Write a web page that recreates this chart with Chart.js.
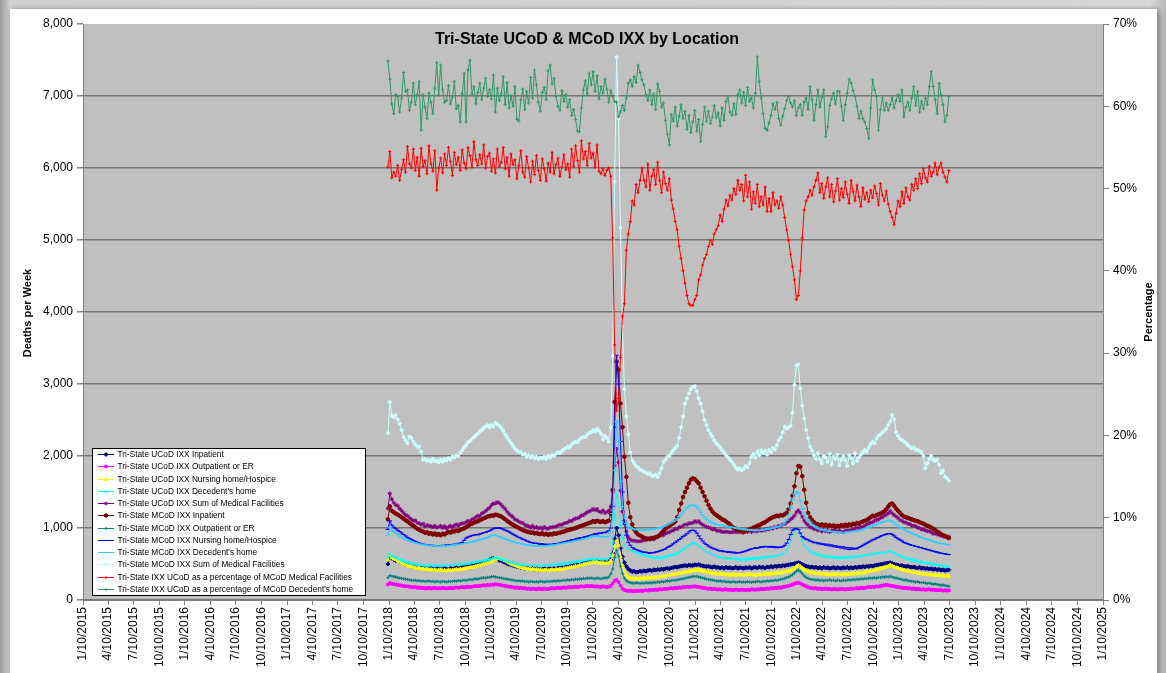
<!DOCTYPE html>
<html>
<head>
<meta charset="utf-8">
<script src="https://cdn.jsdelivr.net/npm/chart.js@4.4.1/dist/chart.umd.min.js"></script>
<style>
  html, body { margin: 0; padding: 0; }
  body { width: 1166px; height: 673px; overflow: hidden; position: relative;
         background: linear-gradient(to right, #9a9a9a 0px, #d0d0d0 10px, #d8d8d8 1150px, #b8b8b8 1166px); }
  .panel { position: absolute; left: 10px; top: 9px; width: 1147px; height: 690px; background: #fff;
           box-shadow: 2px 1px 6px rgba(0,0,0,0.45); }
  #chart { position: absolute; left: 0; top: 0; }
</style>
</head>
<body>
<div class="panel"></div>
<canvas id="chart" width="1166" height="673"></canvas>
<script>
// weekly series, first week ending 1/6/2018
const firstWeek = '1/6/2018';

const xTickLabels = [
  '1/10/2015','4/10/2015','7/10/2015','10/10/2015',
  '1/10/2016','4/10/2016','7/10/2016','10/10/2016',
  '1/10/2017','4/10/2017','7/10/2017','10/10/2017',
  '1/10/2018','4/10/2018','7/10/2018','10/10/2018',
  '1/10/2019','4/10/2019','7/10/2019','10/10/2019',
  '1/10/2020','4/10/2020','7/10/2020','10/10/2020',
  '1/10/2021','4/10/2021','7/10/2021','10/10/2021',
  '1/10/2022','4/10/2022','7/10/2022','10/10/2022',
  '1/10/2023','4/10/2023','7/10/2023','10/10/2023',
  '1/10/2024','4/10/2024','7/10/2024','10/10/2024',
  '1/10/2025'
];

// Tri-State UCoD IXX Inpatient
const ucodInpatient = [
  500,600,580,560,545,555,530,520,510,490,500,480,470,
  460,470,455,445,450,440,455,430,445,440,425,440,435,
  430,445,420,440,430,425,445,430,440,450,435,445,455,
  450,460,470,455,480,475,490,500,495,515,510,530,540,
  560,575,580,565,570,550,545,530,520,505,495,490,480,
  470,465,460,450,455,440,445,435,430,440,425,435,420,
  430,425,440,420,430,435,425,440,430,445,440,450,445,
  460,455,470,465,480,475,490,485,500,505,510,520,530,
  535,550,540,545,530,525,535,520,530,540,560,650,850,
  1000,900,720,600,520,470,430,410,395,400,385,390,400,
  395,405,400,410,415,405,420,415,425,420,430,425,435,
  440,435,445,450,460,455,465,470,475,480,475,485,480,
  480,490,485,495,480,475,470,465,470,460,455,465,450,
  455,445,450,440,455,445,450,440,445,455,440,450,445,
  440,450,445,455,440,450,455,445,460,450,455,445,460,
  455,465,460,470,465,475,470,480,475,485,490,495,500,
  505,515,520,510,495,480,470,465,455,460,450,455,445,
  450,440,455,445,450,440,445,455,440,450,445,440,450,
  445,455,440,450,445,455,450,460,455,465,460,470,465,
  475,470,480,485,490,495,500,505,510,515,520,510,500,490,
  485,475,480,470,465,470,460,455,460,450,445,455,440,
  445,435,440,430,435,425,430,420,425,415,420,410,415,420
];

// Tri-State UCoD IXX Outpatient or ER
const ucodOutpatient = [
  215,235,225,220,215,210,205,200,195,190,190,185,180,
  175,180,170,175,165,170,160,165,170,160,165,170,160,
  165,160,170,165,160,165,170,165,170,175,170,175,180,
  175,180,185,180,185,190,195,190,195,200,205,200,210,
  205,215,210,220,215,210,205,200,195,190,185,180,175,
  170,175,165,170,160,165,155,160,150,160,155,150,160,
  155,150,160,155,150,160,165,160,165,170,165,170,175,
  170,175,180,175,180,185,180,185,190,185,190,195,190,
  195,190,185,190,185,180,190,185,180,185,195,230,265,
  280,250,200,160,140,130,125,130,125,120,130,125,130,
  125,130,135,130,140,135,140,145,140,150,145,150,155,
  155,160,165,160,170,165,175,170,180,175,185,180,185,
  185,190,185,180,175,170,165,160,155,160,150,155,150,
  145,150,140,145,150,140,145,135,140,145,140,135,145,
  140,135,145,140,150,145,140,150,145,155,150,155,160,
  155,165,160,170,165,175,170,180,185,190,195,205,215,
  225,235,240,230,215,200,190,180,170,165,160,165,155,
  160,150,155,160,150,155,145,150,155,145,150,155,150,
  145,155,150,160,155,160,165,160,170,165,170,175,180,
  175,185,180,190,185,195,200,205,210,205,200,195,190,185,
  180,175,170,165,170,160,165,155,160,150,155,150,145,
  150,140,145,150,140,145,135,140,135,140,130,135,130,135
];

// Tri-State UCoD IXX Nursing home/Hospice
const ucodNursing = [
  560,620,590,570,560,545,530,515,500,490,480,470,465,
  455,450,440,445,430,435,425,430,420,425,415,420,410,
  415,420,410,415,405,420,410,415,420,425,420,430,425,
  435,440,445,450,455,460,470,475,480,490,500,505,515,
  520,535,550,560,575,585,570,560,545,530,515,500,490,
  480,470,460,450,445,440,435,430,425,430,420,425,415,
  420,410,415,420,410,415,420,415,425,420,430,425,435,
  440,445,450,455,460,470,465,480,485,490,500,505,510,
  515,525,520,530,515,510,520,505,510,515,540,620,750,
  820,760,600,470,400,350,320,305,300,295,300,290,295,
  300,305,295,310,305,315,310,320,315,325,330,325,335,
  340,345,350,355,360,365,370,375,380,385,390,395,400,
  405,415,410,420,410,400,395,390,385,380,375,370,365,
  360,365,355,360,350,355,345,350,355,345,350,355,350,
  345,355,350,360,350,355,345,355,360,350,355,360,365,
  360,370,365,375,370,380,375,385,390,395,400,410,420,
  440,470,485,470,445,420,405,395,385,380,375,370,365,
  370,360,365,355,360,350,360,355,365,350,360,355,350,
  360,355,365,360,370,365,375,370,380,375,385,390,395,
  400,405,410,420,425,435,440,450,460,470,485,475,460,450,
  445,430,420,415,405,400,395,390,380,385,375,370,365,
  360,365,355,350,355,345,350,340,345,335,340,330,335,330
];

// Tri-State UCoD IXX Decedent's home
const ucodHome = [
  590,640,610,600,585,575,560,550,540,530,525,515,505,
  500,495,490,485,480,490,475,480,470,485,475,470,480,
  475,470,480,485,475,480,490,485,495,490,500,495,505,
  500,510,505,515,520,515,525,530,535,540,545,550,560,
  565,575,585,590,580,575,570,560,550,540,530,520,515,
  505,500,495,490,485,490,480,485,475,480,470,480,475,
  470,480,475,485,480,490,485,495,490,500,495,505,510,
  505,515,520,515,525,530,535,540,545,550,555,560,565,
  565,570,560,575,565,560,570,565,560,575,620,800,1150,
  1480,1350,1050,850,760,720,700,690,680,670,660,650,640,
  635,625,615,610,600,595,590,585,590,580,585,590,600,
  605,615,620,630,640,650,660,680,700,720,740,760,780,
  790,785,770,750,730,710,690,670,655,645,630,620,610,
  600,595,590,580,585,575,580,570,575,565,570,560,565,
  570,560,565,575,570,580,575,585,580,590,585,595,600,
  595,605,600,610,620,615,630,640,660,690,740,820,900,
  960,990,975,900,820,760,720,700,680,660,650,640,630,
  620,615,605,610,600,595,600,590,595,585,590,580,590,
  585,595,590,600,595,605,600,610,605,615,620,625,630,
  635,640,645,650,655,650,660,655,665,670,675,665,650,640,
  625,615,600,590,580,575,565,560,550,545,535,530,520,
  525,515,510,505,500,495,490,485,480,478,472,468,462,460
];

// Tri-State UCoD IXX Sum of Medical Facilities
const ucodSumMedical = [
  1270,1480,1400,1350,1320,1310,1270,1240,1210,1180,1170,1140,1120,
  1100,1105,1070,1065,1045,1060,1020,1040,1030,1025,1010,1030,1005,
  1015,1030,1000,1025,995,1015,1030,1010,1035,1050,1030,1055,1065,
  1065,1080,1100,1090,1120,1130,1150,1170,1165,1200,1215,1235,1260,
  1280,1320,1340,1340,1360,1345,1320,1290,1265,1225,1195,1170,1150,
  1120,1110,1090,1075,1070,1045,1035,1025,1005,1030,1000,1015,995,
  1005,985,1015,995,990,1010,1010,1015,1020,1035,1045,1045,1060,
  1070,1075,1100,1095,1120,1130,1135,1150,1175,1180,1200,1220,1230,
  1245,1265,1245,1265,1230,1215,1245,1210,1220,1240,1295,1500,1865,
  2100,1910,1520,1230,1060,950,875,840,825,825,815,815,815,
  820,840,830,850,860,855,870,870,885,890,905,900,925,
  935,940,960,965,990,985,1010,1015,1030,1050,1045,1065,1065,
  1070,1095,1080,1095,1065,1045,1030,1015,1010,1000,980,990,965,
  960,960,945,945,950,945,940,940,945,945,940,955,940,
  935,950,945,970,945,960,955,955,980,960,970,970,985,
  980,1000,990,1015,1005,1030,1025,1050,1055,1075,1095,1120,1140,
  1170,1220,1245,1210,1155,1100,1065,1040,1010,1005,985,990,965,
  980,950,975,955,960,945,960,965,960,950,965,945,945,
  965,965,965,970,985,985,1000,1000,1015,1015,1030,1050,1060,
  1075,1080,1100,1110,1120,1140,1150,1170,1185,1205,1235,1205,1180,1160,
  1140,1110,1100,1080,1075,1060,1055,1035,1030,1025,1005,1000,980,
  980,965,955,955,940,920,925,910,905,890,890,875,880,880
];

// Tri-State MCoD IXX Inpatient
const mcodInpatient = [
  1120,1300,1240,1220,1200,1185,1170,1150,1130,1110,1090,1070,1050,
  1030,1010,990,975,960,950,935,940,920,930,910,925,905,
  915,900,920,910,930,945,935,955,950,965,960,975,985,
  995,1010,1030,1050,1060,1075,1085,1095,1110,1120,1135,1145,1160,
  1165,1175,1170,1185,1180,1170,1160,1140,1120,1100,1080,1060,1045,
  1030,1015,1000,985,970,960,950,945,935,940,925,930,920,
  915,925,910,920,905,915,910,925,920,930,935,945,950,
  960,970,975,985,990,1000,1010,1020,1030,1040,1050,1060,1070,
  1080,1095,1085,1100,1090,1085,1095,1080,1090,1100,1200,1530,2750,
  3310,3200,2730,2400,1990,1710,1350,1150,1050,980,940,910,895,
  880,865,855,850,845,860,850,870,880,900,930,960,990,
  1010,1030,1050,1065,1090,1150,1250,1340,1430,1500,1560,1620,1670,
  1690,1680,1650,1620,1560,1500,1440,1380,1320,1270,1230,1200,1180,
  1160,1140,1120,1110,1090,1070,1050,1020,1000,990,975,960,955,
  950,960,970,985,990,1005,1015,1030,1040,1055,1070,1080,1100,
  1120,1135,1150,1160,1170,1165,1180,1175,1190,1210,1260,1340,1450,
  1580,1760,1860,1850,1720,1530,1350,1210,1150,1110,1080,1060,1050,
  1040,1050,1030,1045,1020,1040,1025,1035,1015,1030,1020,1040,1025,
  1045,1030,1050,1040,1060,1050,1070,1060,1080,1090,1100,1110,1130,
  1150,1170,1160,1180,1190,1200,1215,1230,1260,1300,1330,1340,1310,1270,
  1240,1210,1180,1160,1150,1140,1130,1120,1110,1100,1095,1080,1070,
  1060,1045,1030,1020,1005,990,970,950,935,915,900,890,875,860
];

// Tri-State MCoD IXX Outpatient or ER
const mcodOutpatient = [
  310,340,330,325,320,310,305,300,295,290,285,280,275,
  270,275,265,270,260,265,255,260,265,255,260,250,260,
  255,250,260,255,250,260,255,260,265,260,270,265,270,
  275,270,280,285,280,290,295,290,300,305,310,305,315,
  315,320,325,320,315,310,305,300,295,290,285,280,275,
  270,265,270,260,265,255,260,250,260,255,250,255,250,
  260,255,250,255,260,255,260,265,260,270,265,270,275,
  270,280,275,285,280,290,285,295,290,300,295,305,300,
  305,300,295,305,300,295,300,310,305,320,360,430,590,
  690,610,470,370,300,265,250,240,235,230,240,235,230,
  235,230,240,235,240,235,245,240,250,245,255,250,260,
  265,260,270,275,270,280,285,290,295,300,310,315,320,
  330,325,330,320,315,305,300,290,285,280,275,270,265,
  260,265,255,260,250,255,245,250,255,245,250,255,245,
  250,245,255,250,245,255,250,260,255,250,260,255,265,
  260,270,265,275,270,280,285,290,300,310,320,335,350,
  375,400,415,395,365,335,315,300,290,285,280,275,280,
  270,275,265,275,270,280,270,275,265,275,270,265,275,
  270,275,280,275,285,280,290,285,295,290,300,295,305,
  300,305,310,305,315,310,320,315,325,320,330,320,310,305,
  300,290,285,275,280,270,265,260,255,250,255,245,240,
  245,235,230,235,225,220,225,215,210,205,210,200,195,190
];

// Tri-State MCoD IXX Nursing home/Hospice
const mcodNursing = [
  980,1100,1040,1010,990,970,950,930,910,890,870,855,840,
  825,815,800,790,785,775,770,760,765,755,760,750,755,
  745,750,760,755,765,760,770,765,775,770,780,790,800,
  830,860,875,885,895,900,910,905,915,925,935,940,950,
  960,975,990,1000,995,1005,990,985,970,960,945,930,915,
  900,885,870,860,845,835,820,810,800,795,785,790,780,
  775,780,770,775,765,775,770,780,775,785,790,800,805,
  810,820,825,835,840,845,855,860,865,870,880,885,890,
  900,910,920,915,930,925,940,935,945,960,1000,1300,2400,
  3400,3000,2200,1500,1100,900,800,760,730,710,700,690,680,
  670,660,665,655,650,660,655,665,670,680,690,700,710,
  730,745,760,780,800,820,840,860,880,900,920,945,965,
  970,960,930,890,850,820,790,770,750,735,720,710,700,
  690,680,685,670,675,660,670,655,665,650,660,655,665,
  670,680,690,700,710,715,725,720,730,740,735,745,740,
  735,745,730,740,725,735,730,740,760,790,840,910,970,
  985,995,980,930,880,860,845,835,820,810,795,800,780,
  790,770,780,760,775,750,765,740,755,730,745,720,740,
  710,730,700,725,705,720,710,730,745,760,775,790,805,
  820,835,845,860,870,885,895,905,915,920,925,910,890,870,
  850,835,820,800,790,780,770,760,755,745,740,730,725,
  715,710,700,695,685,680,670,665,655,650,645,640,635,630
];

// Tri-State MCoD IXX Decedent's home
const mcodHome = [
  900,1010,970,950,930,910,890,870,860,845,835,820,810,
  800,795,785,780,770,775,760,765,755,760,750,755,745,
  750,740,755,745,750,760,755,765,760,770,775,770,780,
  785,790,795,800,805,815,820,830,835,845,850,860,870,
  880,895,905,900,890,880,870,860,850,840,830,820,810,
  800,795,785,780,775,770,760,765,755,760,750,755,745,
  750,745,755,750,760,755,765,760,770,775,780,785,790,
  795,800,805,810,815,820,830,835,840,850,855,860,870,
  880,890,885,895,880,875,885,880,875,890,950,1200,1800,
  2480,2200,1650,1300,1150,1060,1020,1000,990,985,975,980,970,
  975,965,980,970,985,975,990,985,1000,995,1010,1020,1030,
  1045,1060,1075,1090,1110,1130,1160,1190,1220,1250,1280,1300,1315,
  1320,1310,1290,1260,1220,1180,1150,1120,1100,1085,1070,1060,1050,
  1045,1035,1040,1025,1030,1015,1020,1005,1010,995,1000,985,990,
  975,985,970,980,965,975,960,970,965,975,970,980,990,
  985,1000,995,1010,1020,1015,1030,1045,1070,1110,1180,1280,1400,
  1470,1505,1480,1380,1270,1200,1150,1110,1080,1050,1030,1010,995,
  985,970,980,960,965,950,955,945,950,935,945,930,940,
  935,945,940,955,950,960,955,970,965,980,990,1000,1010,
  1020,1030,1040,1050,1060,1070,1080,1090,1100,1110,1105,1090,1070,1050,
  1030,1010,995,980,965,950,940,930,915,905,895,880,870,
  860,850,845,835,825,815,810,800,790,785,780,775,770,765
];

// Tri-State MCoD IXX Sum of Medical Facilities
const mcodSumMedical = [
  2320,2750,2560,2540,2570,2510,2450,2360,2260,2220,2180,2270,2250,
  2200,2160,2130,2130,2060,1950,1960,1930,1950,1920,1960,1930,1940,
  1910,1950,1920,1960,1940,1970,1950,1990,1980,2010,2000,2050,2080,
  2120,2150,2190,2210,2240,2260,2290,2310,2340,2360,2390,2410,2430,
  2400,2430,2410,2460,2440,2420,2390,2350,2300,2260,2220,2180,2140,
  2100,2080,2060,2050,2020,2030,1990,2010,1980,2000,1970,1990,1960,
  1980,1970,1990,1960,2000,1980,2010,2000,2030,2050,2040,2070,2090,
  2110,2130,2120,2160,2180,2200,2190,2230,2250,2270,2260,2300,2320,
  2330,2360,2340,2380,2350,2310,2230,2280,2250,2200,2400,3390,5810,
  7540,6690,5170,3800,2930,2550,2300,2050,1940,1900,1860,1840,1810,
  1800,1780,1770,1750,1760,1730,1720,1740,1710,1760,1830,1920,1950,
  1990,2000,2040,2080,2110,2140,2250,2400,2550,2730,2800,2870,2930,
  2960,2970,2900,2800,2730,2620,2500,2430,2360,2310,2270,2220,2180,
  2150,2120,2080,2050,2010,1980,1950,1920,1880,1840,1810,1830,1800,
  1820,1860,1840,1900,1990,2030,1980,2060,2010,2080,2040,2070,2020,
  2083,2050,2110,2090,2150,2222,2260,2330,2407,2380,2400,2420,2600,
  2990,3260,3270,2940,2700,2520,2360,2250,2130,2080,2010,1960,2040,
  1950,1900,2000,1980,1920,2030,1880,1990,1960,2020,1870,1950,2000,
  1940,1860,2010,1970,1900,2040,1930,1980,2020,2050,2083,2060,2120,
  2170,2200,2180,2240,2280,2300,2330,2350,2380,2430,2480,2570,2510,2330,
  2280,2240,2222,2200,2180,2150,2130,2106,2120,2090,2083,2070,2050,
  2000,1830,1900,1960,2000,1950,1930,1950,1880,1760,1800,1713,1690,1657
];

// Tri-State IXX UCoD as a percentage of MCoD Medical Facilities (%)
const pctMedical = [
  52.6,54.5,51.3,52.0,51.5,52.8,51.0,52.3,53.5,52.0,55.1,53.0,52.5,
  54.8,52.2,53.8,51.5,54.9,52.7,53.4,51.8,55.2,53.0,52.1,54.6,49.8,
  52.5,53.7,51.9,54.2,52.8,55.0,53.3,51.6,54.4,52.9,53.8,52.2,54.7,
  53.1,52.4,55.0,54.0,52.6,55.7,53.5,52.8,54.1,53.0,55.3,52.5,53.9,
  54.3,52.1,53.6,51.9,54.8,52.7,53.2,55.0,52.4,53.8,51.5,54.2,52.9,
  53.5,51.2,52.8,54.6,52.0,51.4,53.9,52.5,50.8,53.3,51.7,54.0,52.2,
  51.0,53.6,52.4,50.9,53.1,52.0,54.4,51.8,52.9,53.7,51.5,52.6,54.1,
  52.3,53.0,51.4,54.8,52.7,55.2,53.4,52.0,55.8,53.6,54.5,52.8,55.5,
  53.7,54.3,52.6,55.3,52.1,51.8,52.4,51.6,52.2,52.5,51.5,44.0,31.0,
  23.0,24.5,29.5,34.5,36.0,42.5,44.5,46.0,48.5,48.0,50.5,49.5,51.0,
  52.5,51.0,50.2,53.0,49.8,51.5,52.3,50.5,53.2,51.0,49.5,52.0,50.6,
  49.8,51.2,48.6,47.5,46.0,45.0,43.0,41.5,40.0,38.5,37.0,36.0,35.8,
  35.8,36.5,37.0,38.9,39.5,40.7,41.5,42.0,43.0,43.7,43.2,44.5,45.0,
  45.5,46.8,46.0,47.5,48.6,47.9,49.2,48.6,50.0,49.3,51.0,49.8,50.5,
  48.5,51.6,49.0,50.8,47.5,49.6,48.2,50.5,47.8,49.0,48.0,50.2,47.2,
  48.8,47.2,49.5,48.0,48.5,47.6,49.0,48.0,46.5,45.0,43.7,42.0,40.5,
  38.9,36.5,37.0,40.0,44.0,47.4,48.5,49.0,49.8,49.2,50.2,51.0,51.9,
  49.5,50.6,48.8,50.2,51.3,49.0,50.5,48.4,49.7,51.2,48.6,50.0,48.9,
  50.8,49.3,48.2,51.0,49.6,48.5,50.4,49.0,47.8,50.1,48.7,49.5,48.4,
  49.8,48.9,50.3,49.4,48.0,50.6,49.2,48.5,49.7,48.1,47.2,46.5,45.6,47.0,
  48.5,47.8,49.6,48.2,50.1,49.0,48.6,50.5,49.8,51.2,50.0,51.8,50.6,
  52.4,51.3,50.8,52.7,51.5,52.0,53.1,51.7,52.6,53.1,52.0,51.4,50.8,52.2
];

// Tri-State IXX UCoD as a percentage of MCoD Decedent's home (%)
const pctHome = [
  65.5,63.3,60.3,59.1,61.4,61.2,59.3,61.0,64.1,61.8,62.0,59.5,60.5,
  62.8,60.2,61.4,63.0,57.1,61.4,59.9,58.5,61.6,60.5,59.1,62.2,65.3,
  61.4,65.0,62.0,60.5,60.7,62.5,60.3,61.1,63.0,59.7,60.1,58.1,61.5,
  64.0,58.1,64.4,65.6,61.4,62.4,60.3,61.7,62.8,60.8,62.2,63.4,61.2,
  62.0,60.9,63.8,59.3,62.2,60.7,61.5,63.6,60.2,62.9,59.8,61.3,60.0,
  62.4,58.4,58.2,60.8,62.1,59.6,61.8,60.4,63.5,61.0,64.4,62.6,60.5,
  59.4,61.7,62.3,60.8,64.3,65.0,62.7,63.4,61.2,60.0,59.5,61.9,60.6,
  61.4,59.9,60.8,58.9,59.6,58.4,57.0,56.9,59.8,62.0,63.1,61.5,64.0,
  62.6,64.2,61.8,63.7,60.9,62.4,61.6,63.3,62.1,60.5,61.9,61.2,60.6,
  60.5,58.7,59.3,60.1,59.5,61.0,62.8,63.2,62.4,63.6,62.9,65.0,64.1,
  63.2,62.6,61.4,60.7,62.0,60.2,61.5,59.6,62.7,61.8,59.9,60.4,58.3,
  56.6,55.3,59.0,58.2,59.9,57.6,58.8,60.2,58.5,59.4,57.2,58.9,56.8,
  58.1,59.5,57.0,58.4,55.7,57.8,59.9,58.2,59.4,57.9,58.7,60.1,58.6,
  59.2,57.6,59.8,58.3,60.6,61.1,59.3,58.9,60.3,59.0,61.4,62.0,60.4,
  61.7,60.1,62.3,60.6,61.0,59.8,61.6,66.0,63.0,61.0,59.1,57.3,57.1,
  58.0,58.9,60.3,59.6,60.5,58.5,57.7,58.8,59.7,60.7,61.2,60.4,59.9,
  60.7,58.9,59.8,60.2,58.9,60.5,61.0,59.6,62.4,60.8,58.3,60.2,62.0,
  59.9,61.1,62.0,56.3,57.5,60.1,60.9,61.6,60.3,61.8,61.8,60.0,58.3,
  60.2,61.6,63.3,62.8,61.9,61.2,60.0,58.5,59.4,58.5,58.1,57.3,56.1,
  59.8,63.2,62.0,61.2,57.1,59.6,61.0,59.5,60.4,59.5,60.2,61.0,59.8,60.7,
  61.4,60.6,62.0,58.7,59.9,60.5,59.5,61.0,62.4,60.1,61.8,59.3,60.6,
  59.7,61.0,60.2,62.4,64.2,62.4,60.8,59.1,62.8,61.4,60.2,58.1,58.9,61.2
];

function dayNum(str) {
  const [m, d, y] = str.split('/').map(Number);
  return Date.UTC(y, m - 1, d) / 86400000;
}
const firstDay = dayNum(firstWeek);
const toPoints = arr => arr.map((v, i) => ({ x: firstDay + 7 * i, y: v }));

const seriesDefs = [
  { label: 'Tri-State UCoD IXX Inpatient', data: ucodInpatient, color: '#000080', style: 'rectRot', r: 2 },
  { label: 'Tri-State UCoD IXX Outpatient or ER', data: ucodOutpatient, color: '#FF00FF', style: 'rect', r: 1.8 },
  { label: 'Tri-State UCoD IXX Nursing home/Hospice', data: ucodNursing, color: '#FFFF00', style: 'triangle', r: 2 },
  { label: "Tri-State UCoD IXX Decedent's home", data: ucodHome, color: '#00FFFF', style: 'crossRot', r: 1.8 },
  { label: 'Tri-State UCoD IXX Sum of Medical Facilities', data: ucodSumMedical, color: '#800080', style: 'star', r: 2 },
  { label: 'Tri-State MCoD IXX Inpatient', data: mcodInpatient, color: '#800000', style: 'circle', r: 1.8 },
  { label: 'Tri-State MCoD IXX Outpatient or ER', data: mcodOutpatient, color: '#008080', style: 'cross', r: 1.6 },
  { label: 'Tri-State MCoD IXX Nursing home/Hospice', data: mcodNursing, color: '#0000FF', style: 'line', r: 2.2 },
  { label: "Tri-State MCoD IXX Decedent's home", data: mcodHome, color: '#33CCFF', style: 'line', r: 2.5 },
  { label: 'Tri-State MCoD IXX Sum of Medical Facilities', data: mcodSumMedical, color: '#CCFFFF', style: 'circle', r: 1.5 },
  { label: 'Tri-State IXX UCoD as a percentage of MCoD Medical Facilities', data: pctMedical, color: '#FF0000', style: 'cross', r: 1.6, axis: 'y2' },
  { label: "Tri-State IXX UCoD as a percentage of MCoD Decedent's home", data: pctHome, color: '#339966', style: 'cross', r: 1.6, axis: 'y2' }
];

const FONT = '"Liberation Sans", Arial, sans-serif';

const plotBackground = {
  id: 'plotBackground',
  beforeDraw(chart) {
    const { ctx, chartArea: a } = chart;
    ctx.save();
    ctx.fillStyle = '#C0C0C0';
    ctx.fillRect(a.left, a.top, a.right - a.left, a.bottom - a.top);
    ctx.restore();
  }
};

const decorations = {
  id: 'decorations',
  afterDraw(chart) {
    const { ctx } = chart;
    ctx.save();
    // chart title
    ctx.fillStyle = '#000';
    ctx.font = 'bold 16px ' + FONT;
    ctx.textAlign = 'center';
    ctx.textBaseline = 'middle';
    ctx.fillText('Tri-State UCoD & MCoD IXX by Location', 587, 40);

    // axis titles
    ctx.font = 'bold 11px ' + FONT;
    ctx.save();
    ctx.translate(28, 313);
    ctx.rotate(-Math.PI / 2);
    ctx.fillText('Deaths per Week', 0, 0);
    ctx.restore();
    ctx.save();
    ctx.translate(1149, 312);
    ctx.rotate(-Math.PI / 2);
    ctx.fillText('Percentage', 0, 0);
    ctx.restore();

    // legend box inside plot
    const bx = 92.5, by = 448.5, bw = 273, bh = 147;
    ctx.fillStyle = '#FFFFFF';
    ctx.fillRect(bx, by, bw, bh);
    ctx.strokeStyle = '#000';
    ctx.lineWidth = 1;
    ctx.strokeRect(bx, by, bw, bh);
    ctx.font = '8.3px ' + FONT;
    ctx.textAlign = 'left';
    seriesDefs.forEach((s, k) => {
      const y = Math.round(454 + k * 12.25) + 0.5;
      ctx.strokeStyle = s.color;
      ctx.lineWidth = 1;
      ctx.beginPath();
      ctx.moveTo(98, y);
      ctx.lineTo(114, y);
      ctx.stroke();
      ctx.fillStyle = s.color;
      Chart.helpers.drawPoint(ctx, { pointStyle: s.style, radius: Math.min(s.r, 2), borderWidth: 1, rotation: 0 }, 106, y);
      ctx.fillStyle = '#000';
      ctx.fillText(s.label, 117.5, y + 0.5);
    });
    ctx.restore();
  }
};

new Chart(document.getElementById('chart'), {
  type: 'line',
  data: {
    datasets: seriesDefs.map((s, i) => ({
      label: s.label,
      data: toPoints(s.data),
      yAxisID: s.axis || 'y',
      borderColor: s.color,
      backgroundColor: s.color,
      borderWidth: 1,
      pointStyle: s.style,
      pointRadius: s.r,
      pointBorderWidth: 1,
      pointBorderColor: s.color,
      pointBackgroundColor: s.color,
      tension: 0,
      order: -i
    }))
  },
  options: {
    responsive: false,
    animation: false,
    devicePixelRatio: 1,
    layout: { padding: { left: 8, right: 8, top: 24, bottom: 0 } },
    plugins: {
      legend: { display: false },
      tooltip: { enabled: false },
      title: { display: false }
    },
    scales: {
      x: {
        type: 'linear',
        min: dayNum(xTickLabels[0]),
        max: dayNum(xTickLabels[xTickLabels.length - 1]),
        afterBuildTicks(scale) {
          scale.ticks = xTickLabels.map(l => ({ value: dayNum(l) }));
        },
        afterFit(scale) { scale.height = 73; },
        ticks: {
          autoSkip: false,
          minRotation: 90,
          maxRotation: 90,
          padding: 2,
          color: '#000',
          font: { family: FONT, size: 12 },
          callback: (v, i) => xTickLabels[i]
        },
        grid: { drawOnChartArea: false, drawTicks: true, tickLength: 5, color: '#808080' },
        border: { color: '#808080' }
      },
      y: {
        position: 'left',
        min: 0,
        max: 8000,
        afterFit(scale) { scale.width = 75; },
        ticks: {
          stepSize: 1000,
          padding: 4,
          color: '#000',
          font: { family: FONT, size: 12 },
          callback: v => v.toLocaleString('en-US')
        },
        grid: {
          color: c => (c.tick && c.tick.value === 8000) ? 'rgba(0,0,0,0)' : '#767676',
          lineWidth: 1.5,
          tickLength: 6,
          tickColor: '#808080'
        },
        border: { color: '#808080' }
      },
      y2: {
        position: 'right',
        min: 0,
        max: 70,
        afterFit(scale) { scale.width = 55; },
        ticks: {
          stepSize: 10,
          padding: 4,
          color: '#000',
          font: { family: FONT, size: 12 },
          callback: v => v + '%'
        },
        grid: { drawOnChartArea: false, tickLength: 6, color: '#808080' },
        border: { color: '#808080' }
      }
    }
  },
  plugins: [plotBackground, decorations]
});
</script>
</body>
</html>
